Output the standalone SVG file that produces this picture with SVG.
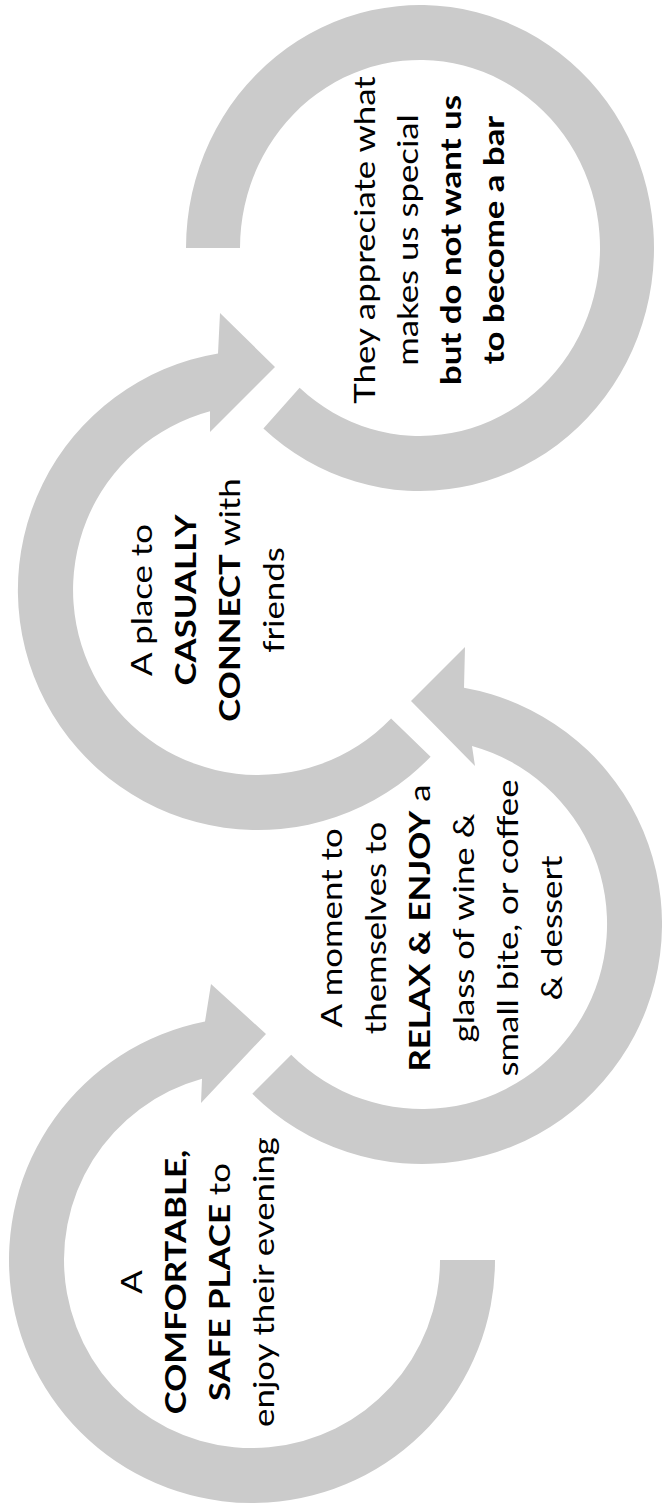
<svg xmlns="http://www.w3.org/2000/svg" width="662" height="1511" viewBox="0 0 662 1511">
<style>
.ring{fill:#cbcbcb;stroke:none}
.t{font-family:Lato,"Open Sans","Liberation Sans",sans-serif;font-size:29px;fill:#000;text-anchor:middle}
.b{font-weight:bold}
</style>
<rect width="662" height="1511" fill="#fff"/>
<g id="node1">
<path class="ring" d="M495,1260 A243,243 0 1 1 205,1021.6 L211,984 L266,1034 L201,1103 L202,1078.8 A188,188 0 1 0 440,1260 Z"/>
<text class="t" transform="translate(0,1282) rotate(-90) scale(1.2,1)"><tspan x="0" y="142">A</tspan><tspan x="0" y="186" class="b">COMFORTABLE,</tspan><tspan x="0" y="230"><tspan class="b">SAFE PLACE</tspan> to</tspan><tspan x="0" y="274">enjoy their evening</tspan></text>
</g>
<g id="node2">
<path class="ring" d="M252.3,1093.7 A240,240 0 1 0 464,687.7 L465,647 L411,701 L475,766 L472,745.9 A185,185 0 1 1 291.2,1054.8 Z"/>
<text class="t" transform="translate(0,928) rotate(-90) scale(1.2,1)"><tspan x="0" y="342">A moment to</tspan><tspan x="0" y="386">themselves to</tspan><tspan x="0" y="430"><tspan class="b">RELAX &amp; ENJOY</tspan> a</tspan><tspan x="0" y="474">glass of wine &amp;</tspan><tspan x="0" y="518">small bite, or coffee</tspan><tspan x="0" y="562">&amp; dessert</tspan></text>
</g>
<g id="node3">
<path class="ring" d="M430.6,756.7 A240,240 0 1 1 218,353.4 L220,313 L275,367 L210,432 L210,411.3 A185,185 0 1 0 391.1,718.5 Z"/>
<text class="t" transform="translate(0,600) rotate(-90) scale(1.2,1)"><tspan x="0" y="152">A place to</tspan><tspan x="0" y="196" class="b">CASUALLY</tspan><tspan x="0" y="240"><tspan class="b">CONNECT</tspan> with</tspan><tspan x="0" y="284">friends</tspan></text>
</g>
<g id="node4">
<path class="ring" d="M263.4,428.6 A234,243 0 1 0 186,248 L240,248 A180,188 0 1 1 299.6,387.7 Z"/>
<text class="t" transform="translate(0,240) rotate(-90) scale(1.2,1)"><tspan x="0" y="375">They appreciate what</tspan><tspan x="0" y="418">makes us special</tspan><tspan x="0" y="461" class="b">but do not want us</tspan><tspan x="0" y="504" class="b">to become a bar</tspan></text>
</g>
<g id="connectors"></g>
</svg>
